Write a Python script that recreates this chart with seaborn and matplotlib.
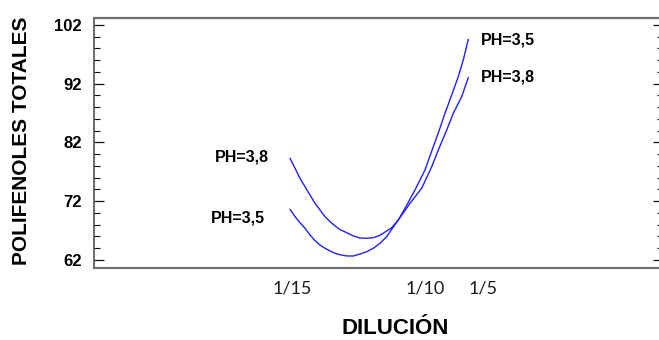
import matplotlib
matplotlib.use("Agg")
import matplotlib.pyplot as plt
import numpy as np
import pandas as pd
import seaborn as sns

# Position along the dilution axis (0-100 scale) and total polyphenols per pH
pos_38 = [34.45, 35.33, 36.20, 37.08, 37.96, 38.84, 39.72, 40.60, 41.48, 42.35,
          43.23, 44.41, 45.57, 46.75, 47.93, 49.09, 50.26, 51.44, 52.32, 53.48,
          54.66, 55.54, 57.59, 59.35, 60.51, 61.99, 63.15, 64.62, 65.78]
val_38 = [79.31, 77.61, 75.91, 74.48, 73.06, 71.65, 70.51, 69.37, 68.52, 67.79,
          67.17, 66.65, 66.09, 65.74, 65.69, 65.80, 66.20, 66.94, 67.50, 68.81,
          70.43, 71.65, 74.20, 77.88, 80.72, 84.13, 86.97, 89.80, 93.06]
pos_35 = [34.45, 35.33, 36.20, 37.08, 37.96, 38.84, 39.72, 40.60, 41.48, 42.35,
          43.23, 44.41, 45.57, 46.75, 47.93, 49.09, 50.26, 51.44, 52.32, 53.48,
          54.66, 56.41, 58.17, 59.63, 60.69, 61.69, 62.86, 64.02, 64.90, 65.78]
val_35 = [70.63, 69.37, 68.35, 67.40, 66.26, 65.29, 64.55, 63.99, 63.53, 63.14,
          62.89, 62.68, 62.68, 63.02, 63.41, 63.99, 64.84, 65.97, 67.23, 68.81,
          70.80, 73.91, 77.32, 81.29, 84.13, 86.97, 90.09, 93.20, 96.04, 99.57]

series_names = ["PH=3,5", "PH=3,8"]
tick_pos = [34.8, 58.2, 68.4]
tick_labels = ["1/15", "1/10", "1/5"]
y_ticks = [62, 72, 82, 92, 102]

df = pd.concat([
    pd.DataFrame({"pos": pos_35, "val": val_35, "ph": series_names[0]}),
    pd.DataFrame({"pos": pos_38, "val": val_38, "ph": series_names[1]}),
])

sns.set_theme(style="white")
plt.rcParams["font.family"] = ["Liberation Sans", "DejaVu Sans"]
plt.rcParams.update({"text.color": "black", "axes.labelcolor": "black",
                     "xtick.color": "black", "ytick.color": "black"})

fig = plt.figure(figsize=(6.59, 3.40), dpi=100)
ax = fig.add_axes([94 / 659, 72.5 / 340, 569 / 659, 249.5 / 340])

sns.lineplot(data=df, x="pos", y="val", hue="ph", sort=False, estimator=None,
             palette=["#1f1fff", "#1f1fff"], linewidth=1.0, legend=False, ax=ax)

ax.set_xlim(0, 100)
ax.set_ylim(60.72, 103.19)

# y axis: bold majors every 10, minors every 2, ticks inward on both sides
ax.set_yticks(y_ticks)
ax.set_yticks(np.arange(62, 103, 2), minor=True)
ax.set_yticklabels([str(t) for t in y_ticks], fontsize=12, fontweight="bold")
ax.tick_params(axis="y", which="major", direction="in", length=7.2, width=0.9,
               color="#111111", left=True, right=True, pad=9)
ax.tick_params(axis="y", which="minor", direction="in", length=4.3, width=0.8,
               color="#111111", left=True, right=True)

# x axis: dilution labels, no tick marks
ax.set_xticks(tick_pos)
ax.set_xticklabels(tick_labels, fontsize=13, family=["Lato", "DejaVu Sans"])
ax.tick_params(axis="x", length=0, pad=9, colors="#1a1a1a")

for side in ["top", "bottom"]:
    ax.spines[side].set_color("#6e6e6e")
    ax.spines[side].set_linewidth(1.6)
ax.spines["left"].set_color("#444444")
ax.spines["left"].set_linewidth(1.1)
ax.spines["right"].set_visible(False)

ax.set_xlabel("DILUCIÓN", fontsize=16, fontweight="bold", va="baseline")
ax.xaxis.set_label_coords(0.529, -0.266)
ax.set_ylabel("POLIFENOLES TOTALES", fontsize=15, fontweight="bold", va="center")
ax.yaxis.set_label_coords(-0.128, 0.507)

# series labels beside the ends of each curve
lab_kw = dict(textcoords="offset pixels", fontsize=11.5, fontweight="bold", va="center")
ax.annotate(series_names[1], (pos_38[0], val_38[0]), xytext=(-21, 1), ha="right", **lab_kw)
ax.annotate(series_names[0], (pos_35[0], val_35[0]), xytext=(-25, -9), ha="right", **lab_kw)
ax.annotate(series_names[0], (pos_35[-1], val_35[-1]), xytext=(13, -1), ha="left", **lab_kw)
ax.annotate(series_names[1], (pos_38[-1], val_38[-1]), xytext=(13, 1), ha="left", **lab_kw)

fig.savefig("out.png", dpi=100)
